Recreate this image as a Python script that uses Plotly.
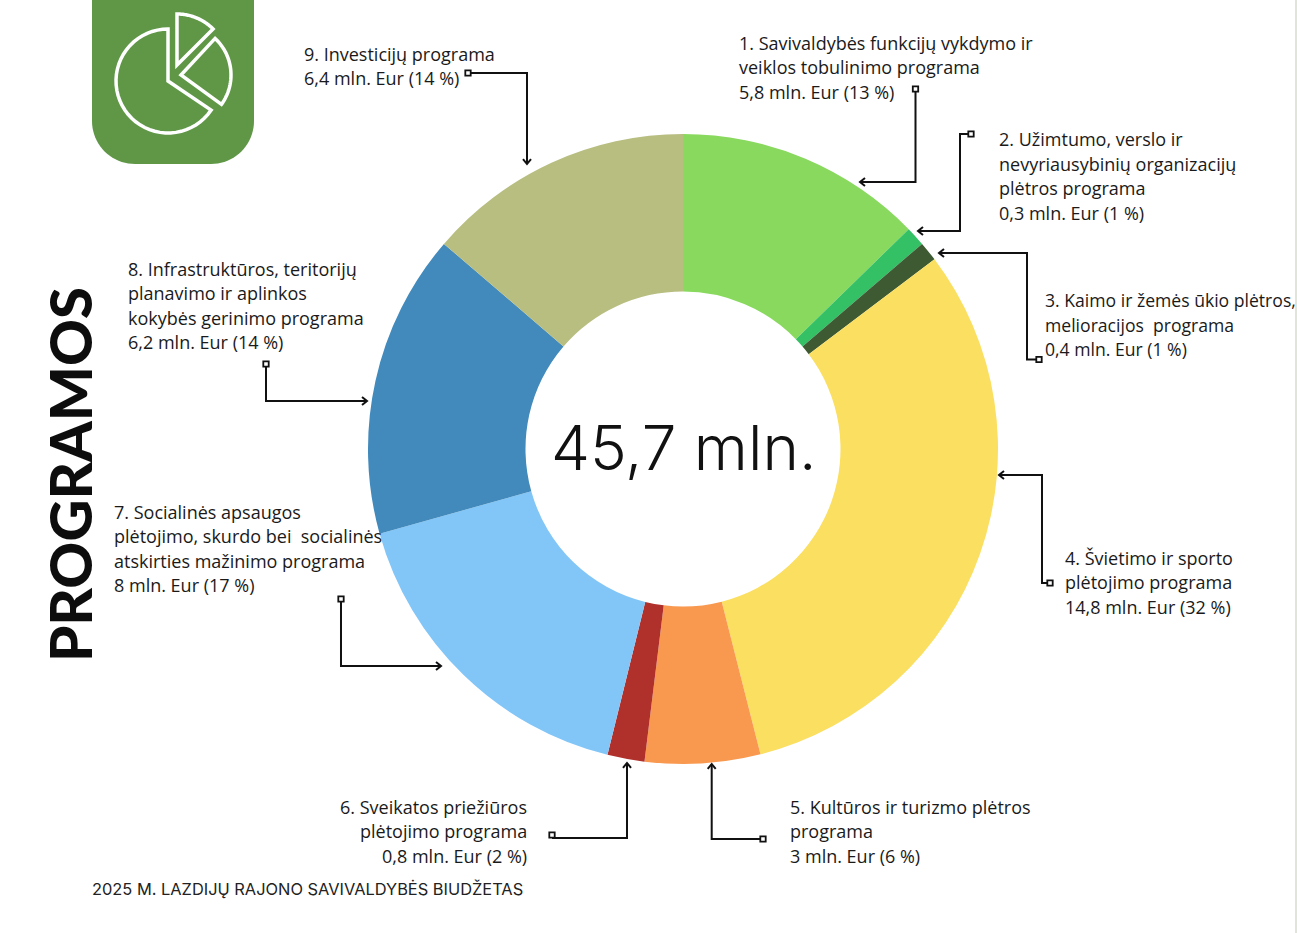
import math
import plotly.graph_objects as go

W = 1297
H = 933

programs = ["Savivaldybės funkcijų vykdymo", "Užimtumo, verslo", "Kaimo ir žemės ūkio",
            "Švietimo ir sporto", "Kultūros ir turizmo", "Sveikatos priežiūros",
            "Socialinės apsaugos", "Infrastruktūros", "Investicijų"]
# share of the budget as the slices are drawn, %
shares = [12.7, 1.0, 1.0, 31.3, 5.9, 1.9, 16.8, 15.6, 13.7]
colors = ["#89d95f", "#34c065", "#3d5a33", "#fbdf60", "#f9984f", "#b0302b", "#82c6f8", "#428abb", "#b8bd80"]

label_texts = [
    ["1. Savivaldybės funkcijų vykdymo ir", "veiklos tobulinimo programa", "5,8 mln. Eur (13 %)"],
    ["2. Užimtumo, verslo ir", "nevyriausybinių organizacijų", "plėtros programa", "0,3 mln. Eur (1 %)"],
    ["3. Kaimo ir žemės ūkio plėtros,", "melioracijos  programa", "0,4 mln. Eur (1 %)"],
    ["4. Švietimo ir sporto", "plėtojimo programa", "14,8 mln. Eur (32 %)"],
    ["5. Kultūros ir turizmo plėtros", "programa", "3 mln. Eur (6 %)"],
    ["6. Sveikatos priežiūros", "plėtojimo programa", "0,8 mln. Eur (2 %)"],
    ["7. Socialinės apsaugos", "plėtojimo, skurdo bei  socialinės", "atskirties mažinimo programa", "8 mln. Eur (17 %)"],
    ["8. Infrastruktūros, teritorijų", "planavimo ir aplinkos", "kokybės gerinimo programa", "6,2 mln. Eur (14 %)"],
    ["9. Investicijų programa", "6,4 mln. Eur (14 %)"],
]
# x and first line y of each text block in page pixels, and which side x refers to
label_pos = [(737, 43, "left"), (997, 139.5, "left"), (1043, 300.5, "left"), (1063, 558, "left"),
             (788, 807, "left"), (529, 807, "right"), (112, 512, "left"), (126, 269, "left"),
             (302, 54, "left")]
# label 3 runs up to the page edge, so it is a touch smaller
label_sizes = [18, 18, 17.6, 18, 18, 18, 18, 18, 18]
LINE_STEP = 24.4

# leader lines: from the small square to the arrow tip
leaders = [
    [(915.5, 92), (915.5, 182), (860, 182)],
    [(968, 134), (960, 134), (960, 231), (918, 231)],
    [(1036, 359.5), (1027, 359.5), (1027, 253), (939, 253)],
    [(1047, 583), (1042, 583), (1042, 475), (999, 475)],
    [(760, 839), (711.7, 839), (711.7, 764)],
    [(552, 838), (627, 838), (627, 763)],
    [(341, 602), (341, 666), (441, 666)],
    [(266, 367), (266, 401), (367, 401)],
    [(471, 73), (527, 73), (527, 164)],
]
squares = [(915.5, 89), (971, 134), (1039, 359.5), (1050, 583), (763, 839),
           (552, 835), (341, 599), (266, 364), (468, 73)]


def px(x):
    return x / W


def py(y):
    return 1 - y / H


def to_path(points, close=False):
    s = "M" + " L".join(f"{px(x):.5f},{py(y):.5f}" for x, y in points)
    return s + (" Z" if close else "")


def arc(cx, cy, r, a0, a1, n=40):
    # angles in degrees, clockwise from the top
    pts = []
    for i in range(n + 1):
        a = math.radians(a0 + (a1 - a0) * i / n)
        pts.append((cx + r * math.sin(a), cy - r * math.cos(a)))
    return pts


shapes = []

# thin line on the right edge of the page
shapes.append(dict(type="line", xref="paper", yref="paper", x0=px(1296), x1=px(1296), y0=0, y1=1,
                   line=dict(color="#d5dccb", width=1.5)))

# green tab with rounded bottom corners
tab = [(92, -2)] + arc(135, 121, 43, 270, 180, 20) + arc(211, 121, 43, 180, 90, 20) + [(254, -2)]
shapes.append(dict(type="path", xref="paper", yref="paper", path=to_path(tab, True),
                   fillcolor="#5f9747", line=dict(width=0)))

# pie icon
icon = [
    arc(168, 81, 52, 0, -236) + [(168, 81)],
    [(181, 75)] + arc(181, 75, 50, 43, 126),
    [(177, 65)] + arc(177, 65, 51, 0, 45),
]
for part in icon:
    shapes.append(dict(type="path", xref="paper", yref="paper", path=to_path(part, True),
                       fillcolor="rgba(0,0,0,0)", line=dict(color="white", width=3.5)))

# leader lines, arrow heads and small squares
for pts, sq in zip(leaders, squares):
    shapes.append(dict(type="path", xref="paper", yref="paper", path=to_path(pts),
                       line=dict(color="#111111", width=2)))
    (x0, y0), (x1, y1) = pts[-2], pts[-1]
    dx = (x1 > x0) - (x1 < x0)
    dy = (y1 > y0) - (y1 < y0)
    head = [(x1 - 5 * dx + 4 * dy, y1 - 5 * dy + 4 * dx), (x1, y1), (x1 - 5 * dx - 4 * dy, y1 - 5 * dy - 4 * dx)]
    shapes.append(dict(type="path", xref="paper", yref="paper", path=to_path(head),
                       line=dict(color="#111111", width=2)))
    shapes.append(dict(type="rect", xref="paper", yref="paper",
                       x0=px(sq[0] - 2.7), x1=px(sq[0] + 2.7), y0=py(sq[1] + 2.7), y1=py(sq[1] - 2.7),
                       fillcolor="white", line=dict(color="#111111", width=1.8)))

annotations = []
for lines, (x, y, side), size in zip(label_texts, label_pos, label_sizes):
    for i, line in enumerate(lines):
        annotations.append(dict(text=line, x=px(x), y=py(y + i * LINE_STEP), xref="paper", yref="paper",
                                showarrow=False, xanchor=side, yanchor="middle", align=side,
                                font=dict(family="Open Sans", size=size, color="#1a1a1a")))

annotations.append(dict(text="45,7 mln.", x=px(683), y=py(447), xref="paper", yref="paper", showarrow=False,
                        xanchor="center", yanchor="middle",
                        font=dict(family="Inter", size=62, weight=300, color="#111111")))
annotations.append(dict(text="PROGRAMOS", x=px(69), y=py(475), xref="paper", yref="paper", showarrow=False,
                        xanchor="center", yanchor="middle", textangle=-90,
                        font=dict(family="Lato", size=58, weight=900, color="#0d0d0d")))
annotations.append(dict(text="2025 M. LAZDIJŲ RAJONO SAVIVALDYBĖS BIUDŽETAS", x=px(90), y=py(889),
                        xref="paper", yref="paper", showarrow=False, xanchor="left", yanchor="middle",
                        font=dict(family="Inter", size=16.4, color="#222222")))

fig = go.Figure(go.Pie(
    labels=programs,
    values=shares,
    marker=dict(colors=colors, line=dict(width=0)),
    hole=0.5,
    sort=False,
    direction="clockwise",
    rotation=0,
    textinfo="none",
    hoverinfo="skip",
    showlegend=False,
    domain=dict(x=[px(368), px(998)], y=[py(764), py(134)]),
))

fig.update_layout(
    width=W,
    height=H,
    margin=dict(l=0, r=0, t=0, b=0),
    paper_bgcolor="white",
    shapes=shapes,
    annotations=annotations,
)

fig.write_html("out.html", config=dict(displayModeBar=False),
               post_script="document.body.style.margin='0';document.body.style.overflow='hidden';")
